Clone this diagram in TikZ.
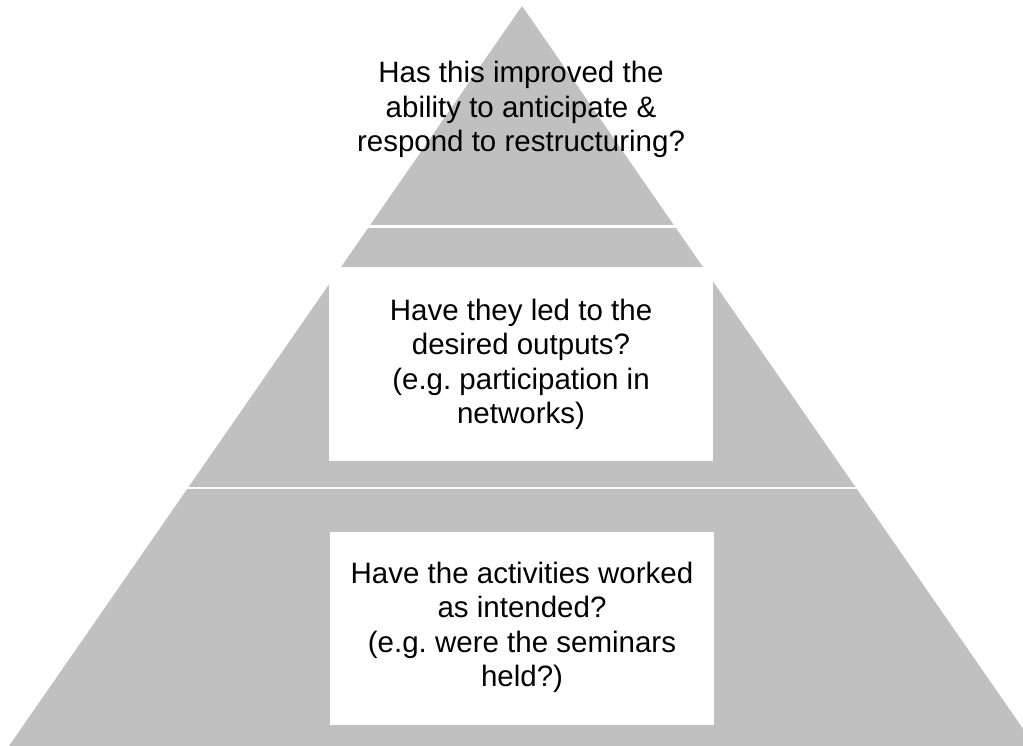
\documentclass[tikz,border=0pt]{standalone}
\usepackage{fontspec}
\setmainfont{Liberation Sans}
\frenchspacing
\definecolor{pgray}{RGB}{192,192,192}
\begin{document}
\begin{tikzpicture}[x=1pt,y=-1pt,
  lbl/.style={align=center,inner sep=0pt,font=\fontsize{29.5}{34.5}\selectfont,text=black},
  gap/.style={fill=white},
  box/.style={fill=white}]
\useasboundingbox (0,0) rectangle (1023,746);
\begin{scope}
\clip (0,0) rectangle (1023,746);
\fill[pgray] (522,6) -- (1035,746) -- (9,746) -- cycle;
\end{scope}
\fill[gap] (0,225) rectangle (1023,227.7);
\fill[gap] (0,486.7) rectangle (1023,488.7);
\fill[box] (329,267.5) rectangle (713,461);
\fill[box] (330,532) rectangle (714,725);
\node[lbl,anchor=base] (t1) at (521,152) {Has this improved the\\ability to anticipate \&\\respond to restructuring?};
\node[lbl,anchor=base] (t2) at (521,423.5) {Have they led to the\\desired outputs?\\(e.g. participation in\\networks)};
\node[lbl,anchor=base] (t3) at (522,686.5) {Have the activities worked\\as intended?\\(e.g. were the seminars\\held?)};
\end{tikzpicture}
\end{document}
